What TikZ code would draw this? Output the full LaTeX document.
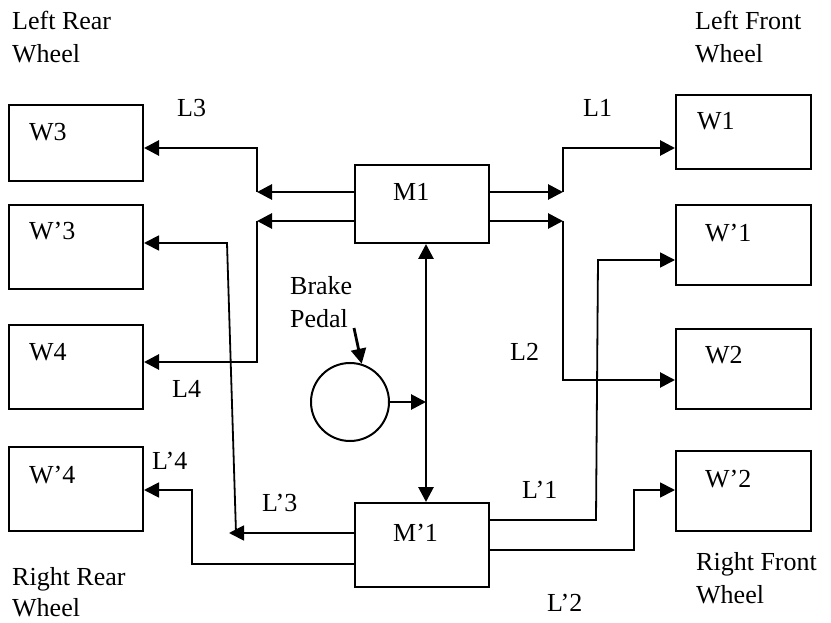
\documentclass[tikz,border=0pt]{standalone}
\usepackage{fontspec}
\setmainfont{Liberation Serif}
\usetikzlibrary{arrows.meta,calc}
\begin{document}
\begin{tikzpicture}[x=1pt,y=-1pt,
  box/.style={draw, line width=2pt, rectangle, inner sep=0pt},
  txt/.style={inner sep=0pt, font=\fontsize{26}{33}\selectfont},
  lbl/.style={txt, anchor=base west},
  multi/.style={txt, anchor=north west, align=left},
  tip/.tip={Triangle[length=15pt,width=15pt]},
  marr/.style={line width=2.8pt, -tip},
  dblarr/.style={line width=2.8pt, tip-tip},
  tarr/.style={line width=1.8pt, -tip},
]
\useasboundingbox (0,0) rectangle (831,623);

% boxes
\node[box, minimum width=134pt, minimum height=76pt] (w3)  at (76,143) {};
\node[box, minimum width=134pt, minimum height=84pt] (wp3) at (76,247) {};
\node[box, minimum width=134pt, minimum height=84pt] (w4)  at (76,367) {};
\node[box, minimum width=134pt, minimum height=84pt] (wp4) at (76,489) {};
\node[box, minimum width=135pt, minimum height=74pt] (w1)  at (743.5,132) {};
\node[box, minimum width=135pt, minimum height=80pt] (wp1) at (743.5,245) {};
\node[box, minimum width=135pt, minimum height=80pt] (w2)  at (743.5,369) {};
\node[box, minimum width=135pt, minimum height=80pt] (wp2) at (743.5,491) {};
\node[box, minimum width=134pt, minimum height=78pt] (m1)  at (422,204) {};
\node[box, minimum width=134pt, minimum height=84pt] (mp1) at (422,545) {};
\node[draw, circle, line width=2pt, minimum size=78pt, inner sep=0pt] (pedal) at (350,402) {};

% box labels
\node[lbl] (tw3)  at (29,141) {W3};
\node[lbl] (twp3) at (29,240) {W’3};
\node[lbl] (tw4)  at (29,360) {W4};
\node[lbl] (twp4) at (29,483) {W’4};
\node[lbl] (tw1)  at (697,130) {W1};
\node[lbl] (twp1) at (705,242) {W’1};
\node[lbl] (tw2)  at (705,363) {W2};
\node[lbl] (twp2) at (705,487) {W’2};
\node[lbl] (tm1)  at (393,201) {M1};
\node[lbl] (tmp1) at (393,541) {M’1};

% line labels
\node[lbl] (l3)  at (177,117) {L3};
\node[lbl] (l1)  at (583,117) {L1};
\node[lbl] (l2)  at (510,360) {L2};
\node[lbl] (l4)  at (172,397) {L4};
\node[lbl] (lp4) at (152,469) {L’4};
\node[lbl] (lp3) at (262,511) {L’3};
\node[lbl] (lp1) at (522,498) {L’1};
\node[lbl] (lp2) at (547,611) {L’2};

% titles
\node[multi] (lrw) at (12,11)  {Left Rear\\Wheel};
\node[multi] (lfw) at (695,11) {Left Front\\Wheel};
\node[multi, font=\fontsize{26}{31}\selectfont] (rrw) at (12,567) {Right Rear\\Wheel};
\node[multi] (rfw) at (696,552) {Right Front\\Wheel};
\node[multi] (bpl) at (290,276) {Brake\\Pedal};

% junction coordinates
\coordinate (jL3) at (257,192); \coordinate (cL3) at (257,148);
\coordinate (jL4) at (257,221); \coordinate (cL4) at (257,362);
\coordinate (jL1) at (563,192); \coordinate (cL1) at (563,148);
\coordinate (jL2) at (563,221); \coordinate (cL2) at (563,380);
\coordinate (vx) at (426,402);
\coordinate (bpt) at (354,328);
\coordinate (aLp3) at (229,533); \coordinate (bLp3) at (236,533); \coordinate (cLp3) at (227,243);
\coordinate (dLp4) at (192,564); \coordinate (cLp4) at (192,490);
\coordinate (dLp1) at (596,520); \coordinate (cLp1) at (598,260);
\coordinate (dLp2) at (634,550); \coordinate (cLp2) at (634,490);

% M1 connectors
\draw[marr] (m1.west|-jL3) -- (jL3);
\draw[marr] (jL3) -- (cL3) -- (w3.east|-cL3);
\draw[marr] (m1.west|-jL4) -- (jL4);
\draw[marr] (jL4) -- (cL4) -- (w4.east|-cL4);
\draw[marr] (m1.east|-jL1) -- (jL1);
\draw[marr] (jL1) -- (cL1) -- (w1.west|-cL1);
\draw[marr] (m1.east|-jL2) -- (jL2);
\draw[marr] (jL2) -- (cL2) -- (w2.west|-cL2);

% master link and pedal
\draw[dblarr] (m1.south-|vx) -- (mp1.north-|vx);
\draw[marr] (pedal.east) -- (vx);
\draw[marr] (bpt) -- (pedal.73);

% M'1 connectors
\draw[tarr] (mp1.west|-aLp3) -- (aLp3);
\draw[tarr] (bLp3) -- (cLp3) -- (wp3.east|-cLp3);
\draw[tarr] (mp1.west|-dLp4) -- (dLp4) -- (cLp4) -- (wp4.east|-cLp4);
\draw[tarr] (mp1.east|-dLp1) -- (dLp1) -- (cLp1) -- (wp1.west|-cLp1);
\draw[tarr] (mp1.east|-dLp2) -- (dLp2) -- (cLp2) -- (wp2.west|-cLp2);
\end{tikzpicture}
\end{document}
